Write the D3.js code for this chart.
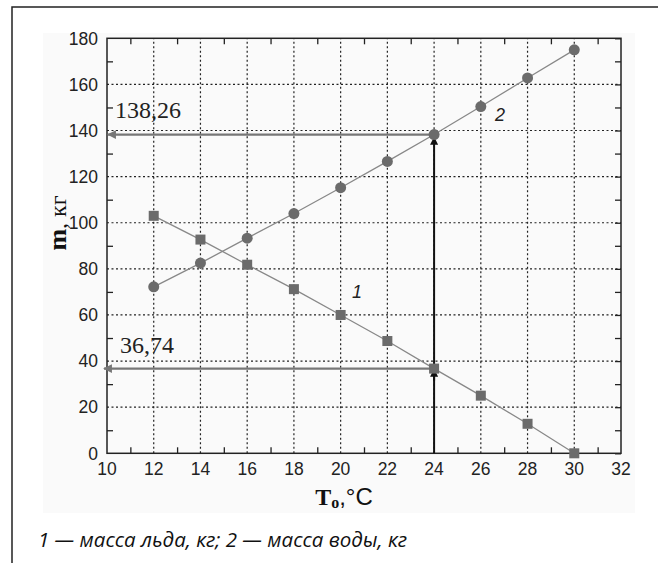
<!DOCTYPE html>
<html>
<head>
<meta charset="utf-8">
<script src="https://cdn.jsdelivr.net/npm/d3@7"></script>
<style>
  body { margin: 0; background: #fff; }
</style>
</head>
<body>
<div id="container"></div>
<script>
// Chart data
const temps = [12, 14, 16, 18, 20, 22, 24, 26, 28, 30];
const iceMass = [103, 92.7, 81.8, 71.2, 60, 48.7, 36.74, 25, 12.8, 0];      // curve 1
const waterMass = [72.2, 82.5, 93.3, 104, 115.2, 126.6, 138.26, 150.4, 162.8, 175]; // curve 2
const xTicks = [10, 12, 14, 16, 18, 20, 22, 24, 26, 28, 30, 32];
const yTicks = [0, 20, 40, 60, 80, 100, 120, 140, 160, 180];
const pickT = 24;
const pickIce = 36.74;
const pickWater = 138.26;

const width = 658;
const height = 563;

const svg = d3.select("#container").append("svg")
    .attr("width", width)
    .attr("height", height)
    .style("display", "block");

// outer frame (top and left edges only are visible)
svg.append("path")
    .attr("d", `M12,${height} L12,7 L${width},7`)
    .attr("fill", "none")
    .attr("stroke", "#222")
    .attr("stroke-width", 1.5);

// faint grey backdrop of the scanned figure
svg.append("rect")
    .attr("x", 43).attr("y", 33)
    .attr("width", 592).attr("height", 480)
    .attr("fill", "#fafafa");

const x = d3.scaleLinear().domain([10, 32]).range([107, 621]);
const y = d3.scaleLinear().domain([0, 180]).range([453.3, 38.3]);

const defs = svg.append("defs");
function arrowMarker(id, color) {
    defs.append("marker")
        .attr("id", id)
        .attr("viewBox", "0 0 10 10")
        .attr("refX", 9).attr("refY", 5)
        .attr("markerWidth", 5).attr("markerHeight", 4)
        .attr("markerUnits", "strokeWidth")
        .attr("orient", "auto")
        .append("path")
        .attr("d", "M0,0 L10,5 L0,10 Z")
        .attr("fill", color);
}
arrowMarker("arrGrey", "#777");
arrowMarker("arrBlack", "#111");

// grid
const grid = svg.append("g")
    .attr("stroke", "#222")
    .attr("stroke-width", 1.2)
    .attr("stroke-dasharray", "2,2.5");
grid.selectAll(".gx")
    .data(xTicks.slice(1, -1))
    .join("line")
    .attr("x1", d => x(d)).attr("x2", d => x(d))
    .attr("y1", y(0)).attr("y2", y(180));
grid.selectAll(".gy")
    .data(yTicks.slice(1, -1))
    .join("line")
    .attr("class", "gy")
    .attr("x1", x(10)).attr("x2", x(32))
    .attr("y1", d => y(d)).attr("y2", d => y(d));

// axes with inward ticks on all four sides
const minorX = d3.range(11, 32, 2);
const minorY = d3.range(10, 180, 20);

svg.append("g")
    .attr("transform", `translate(0,${y(0)})`)
    .call(d3.axisBottom(x).tickValues(minorX).tickSize(-6).tickFormat(""))
    .call(g => g.select(".domain").remove());
svg.append("g")
    .attr("transform", `translate(0,${y(180)})`)
    .call(d3.axisTop(x).tickValues(minorX).tickSize(-6).tickFormat(""))
    .call(g => g.select(".domain").remove());
svg.append("g")
    .attr("transform", `translate(${x(10)},0)`)
    .call(d3.axisLeft(y).tickValues(minorY).tickSize(-6).tickFormat(""))
    .call(g => g.select(".domain").remove());
svg.append("g")
    .attr("transform", `translate(${x(32)},0)`)
    .call(d3.axisRight(y).tickValues(minorY).tickSize(-6).tickFormat(""))
    .call(g => g.select(".domain").remove());
svg.append("g")
    .attr("transform", `translate(${x(32)},0)`)
    .call(d3.axisRight(y).tickValues(yTicks).tickSize(-6).tickFormat(""))
    .call(g => g.select(".domain").remove());

svg.selectAll(".tick line").attr("stroke", "#222").attr("stroke-width", 1.3);

// tick labels
const tickFont = "'Liberation Sans', Arial, sans-serif";
svg.append("g")
    .selectAll("text")
    .data(xTicks)
    .join("text")
    .attr("x", d => x(d))
    .attr("y", y(0) + 22)
    .attr("text-anchor", "middle")
    .attr("font-family", tickFont)
    .attr("font-size", 17.5)
    .attr("fill", "#222")
    .text(d => d);
svg.append("g")
    .selectAll("text")
    .data(yTicks)
    .join("text")
    .attr("x", x(10) - 9)
    .attr("y", d => y(d))
    .attr("dy", "0.36em")
    .attr("text-anchor", "end")
    .attr("font-family", tickFont)
    .attr("font-size", 17.5)
    .attr("fill", "#222")
    .text(d => d);

// plot frame
svg.append("rect")
    .attr("x", x(10)).attr("y", y(180))
    .attr("width", x(32) - x(10)).attr("height", y(0) - y(180))
    .attr("fill", "none")
    .attr("stroke", "#222")
    .attr("stroke-width", 1.5);

// reading lines (arrows)
svg.append("line")
    .attr("x1", x(pickT)).attr("y1", y(pickWater))
    .attr("x2", x(10) + 1).attr("y2", y(pickWater))
    .attr("stroke", "#777").attr("stroke-width", 2.2)
    .attr("marker-end", "url(#arrGrey)");
svg.append("line")
    .attr("x1", x(pickT) - 2).attr("y1", y(pickIce))
    .attr("x2", x(10) - 3).attr("y2", y(pickIce))
    .attr("stroke", "#777").attr("stroke-width", 2.2)
    .attr("marker-end", "url(#arrGrey)");
svg.append("line")
    .attr("x1", x(pickT)).attr("y1", y(0))
    .attr("x2", x(pickT)).attr("y2", y(pickWater) + 3)
    .attr("stroke", "#111").attr("stroke-width", 2)
    .attr("marker-end", "url(#arrBlack)");
svg.append("line")
    .attr("x1", x(pickT)).attr("y1", y(pickIce) + 12)
    .attr("x2", x(pickT)).attr("y2", y(pickIce) + 1)
    .attr("stroke", "#111").attr("stroke-width", 2)
    .attr("marker-end", "url(#arrBlack)");

// series lines
const line = d3.line().x(d => x(d[0])).y(d => y(d[1]));
const icePts = temps.map((t, i) => [t, iceMass[i]]);
const waterPts = temps.map((t, i) => [t, waterMass[i]]);

svg.append("path")
    .datum(icePts)
    .attr("d", line)
    .attr("fill", "none")
    .attr("stroke", "#888")
    .attr("stroke-width", 1.3);
svg.append("path")
    .datum(waterPts)
    .attr("d", line)
    .attr("fill", "none")
    .attr("stroke", "#888")
    .attr("stroke-width", 1.3);

// markers
svg.append("g")
    .selectAll("rect")
    .data(icePts)
    .join("rect")
    .attr("x", d => x(d[0]) - 5)
    .attr("y", d => y(d[1]) - 5)
    .attr("width", 10).attr("height", 10)
    .attr("fill", "#6b6b6b");
svg.append("g")
    .selectAll("circle")
    .data(waterPts)
    .join("circle")
    .attr("cx", d => x(d[0]))
    .attr("cy", d => y(d[1]))
    .attr("r", 5.5)
    .attr("fill", "#6b6b6b");

// value labels
const serif = "'Liberation Serif', 'Times New Roman', serif";
svg.append("text")
    .attr("x", 115).attr("y", 118)
    .attr("font-family", serif).attr("font-size", 24)
    .attr("fill", "#222")
    .text("138,26");
svg.append("text")
    .attr("x", 120).attr("y", 353)
    .attr("font-family", serif).attr("font-size", 24)
    .attr("fill", "#222")
    .text("36,74");

// curve numbers
svg.append("text")
    .attr("x", 495).attr("y", 121)
    .attr("font-family", "'Liberation Sans', Arial, sans-serif")
    .attr("font-style", "italic").attr("font-size", 18)
    .attr("fill", "#222")
    .text("2");
svg.append("text")
    .attr("x", 352).attr("y", 298)
    .attr("font-family", "'Liberation Sans', Arial, sans-serif")
    .attr("font-style", "italic").attr("font-size", 18)
    .attr("fill", "#222")
    .text("1");

// axis titles
const yTitle = svg.append("text")
    .attr("transform", `translate(66,223) rotate(-90)`)
    .attr("text-anchor", "middle")
    .attr("font-family", serif)
    .attr("font-size", 24)
    .attr("fill", "#111");
yTitle.append("tspan").attr("font-weight", "bold").attr("font-size", 26).text("m");
yTitle.append("tspan").text(", кг");

const xTitle = svg.append("text")
    .attr("x", 344).attr("y", 505)
    .attr("text-anchor", "middle")
    .attr("font-size", 24)
    .attr("fill", "#111");
xTitle.append("tspan").attr("font-family", serif).attr("font-weight", "bold").text("T");
xTitle.append("tspan").attr("font-family", serif).attr("font-weight", "bold").attr("font-size", 16).attr("dy", 3).text("o");
xTitle.append("tspan").attr("font-family", tickFont).attr("dy", -3).text(",°C");

// caption
svg.append("text")
    .attr("x", 38).attr("y", 547)
    .attr("font-family", "'Open Sans', 'Noto Sans', sans-serif")
    .attr("font-style", "italic")
    .attr("font-size", 20.5)
    .attr("fill", "#111")
    .text("1 — масса льда, кг; 2 — масса воды, кг");
</script>
</body>
</html>
